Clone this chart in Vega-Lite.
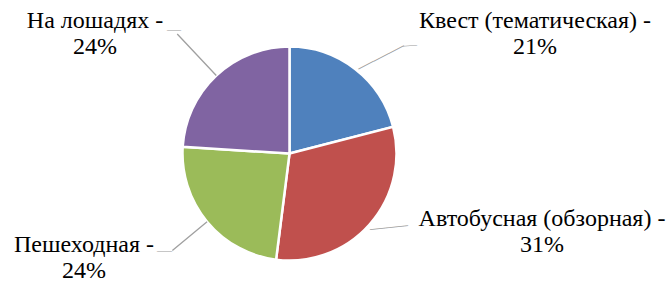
{
  "$schema": "https://vega.github.io/schema/vega-lite/v6.json",
  "autosize": "none",
  "width": 579,
  "height": 257,
  "padding": {"left": 0, "right": 90, "top": 25, "bottom": 0},
  "background": "white",
  "config": {"view": {"stroke": null}},
  "data": {
    "values": [
      {"i": 1, "name": "Квест (тематическая)", "value": 21, "line1": "Квест (тематическая) -", "line2": "21%"},
      {"i": 2, "name": "Автобусная (обзорная)", "value": 31, "line1": "Автобусная (обзорная) -", "line2": "31%"},
      {"i": 3, "name": "Пешеходная", "value": 24, "line1": "Пешеходная -", "line2": "24%"},
      {"i": 4, "name": "На лошадях", "value": 24, "line1": "На лошадях -", "line2": "24%"}
    ]
  },
  "layer": [
    {
      "transform": [{"filter": "datum.i == 1"}],
      "mark": {"type": "text", "font": "Liberation Serif", "fontSize": 24, "align": "center", "baseline": "alphabetic", "dx": 245.5, "dy": -125.2},
      "encoding": {"text": {"field": "line1", "type": "nominal"}}
    },
    {
      "transform": [{"filter": "datum.i == 1"}],
      "mark": {"type": "text", "font": "Liberation Serif", "fontSize": 24, "align": "center", "baseline": "alphabetic", "dx": 245.5, "dy": -99.2},
      "encoding": {"text": {"field": "line2", "type": "nominal"}}
    },
    {
      "transform": [{"filter": "datum.i == 2"}],
      "mark": {"type": "text", "font": "Liberation Serif", "fontSize": 24, "align": "center", "baseline": "alphabetic", "dx": 252.5, "dy": 72.5},
      "encoding": {"text": {"field": "line1", "type": "nominal"}}
    },
    {
      "transform": [{"filter": "datum.i == 2"}],
      "mark": {"type": "text", "font": "Liberation Serif", "fontSize": 24, "align": "center", "baseline": "alphabetic", "dx": 252.5, "dy": 98.5},
      "encoding": {"text": {"field": "line2", "type": "nominal"}}
    },
    {
      "transform": [{"filter": "datum.i == 3"}],
      "mark": {"type": "text", "font": "Liberation Serif", "fontSize": 24, "align": "center", "baseline": "alphabetic", "dx": -205.5, "dy": 98.2},
      "encoding": {"text": {"field": "line1", "type": "nominal"}}
    },
    {
      "transform": [{"filter": "datum.i == 3"}],
      "mark": {"type": "text", "font": "Liberation Serif", "fontSize": 24, "align": "center", "baseline": "alphabetic", "dx": -205.5, "dy": 124.2},
      "encoding": {"text": {"field": "line2", "type": "nominal"}}
    },
    {
      "transform": [{"filter": "datum.i == 4"}],
      "mark": {"type": "text", "font": "Liberation Serif", "fontSize": 24, "align": "center", "baseline": "alphabetic", "dx": -194.5, "dy": -125.8},
      "encoding": {"text": {"field": "line1", "type": "nominal"}}
    },
    {
      "transform": [{"filter": "datum.i == 4"}],
      "mark": {"type": "text", "font": "Liberation Serif", "fontSize": 24, "align": "center", "baseline": "alphabetic", "dx": -194.5, "dy": -99.8},
      "encoding": {"text": {"field": "line2", "type": "nominal"}}
    },
    {
      "mark": {"type": "arc", "outerRadius": 107, "stroke": "white", "strokeWidth": 2.5},
      "encoding": {
        "theta": {"field": "value", "type": "quantitative", "stack": true},
        "order": {"field": "i", "type": "quantitative"},
        "color": {
          "field": "name", "type": "nominal", "legend": null,
          "scale": {
            "domain": ["Квест (тематическая)", "Автобусная (обзорная)", "Пешеходная", "На лошадях"],
            "range": ["#4F81BD", "#C0504D", "#9BBB59", "#8064A2"]
          }
        }
      }
    },
    {
      "mark": {"type": "arc", "innerRadius": 107, "outerRadius": 152, "padAngle": 3, "fillOpacity": 0, "fill": "white", "stroke": "#A0A0A0", "strokeWidth": 1.3},
      "encoding": {
        "theta": {"field": "value", "type": "quantitative", "stack": true},
        "order": {"field": "i", "type": "quantitative"},
        "strokeOpacity": {"condition": {"test": "datum.i == 3", "value": 1}, "value": 0}
      }
    },
    {
      "mark": {"type": "arc", "innerRadius": 107, "outerRadius": 164, "padAngle": 3, "fillOpacity": 0, "fill": "white", "stroke": "#A0A0A0", "strokeWidth": 1.3},
      "encoding": {
        "theta": {"field": "value", "type": "quantitative", "stack": true},
        "order": {"field": "i", "type": "quantitative"},
        "strokeOpacity": {"condition": {"test": "datum.i == 4", "value": 1}, "value": 0}
      }
    },
    {
      "transform": [{"filter": "datum.i == 1"}],
      "mark": {"type": "text", "text": "———", "font": "Liberation Serif", "fontSize": 17, "align": "left", "baseline": "middle", "angle": 333, "dx": 99.85, "dy": -45.08, "color": "#A0A0A0"}
    },
    {
      "transform": [{"filter": "datum.i == 1"}],
      "mark": {"type": "text", "text": "—", "font": "Liberation Serif", "fontSize": 14, "align": "left", "baseline": "middle", "angle": 356, "dx": 120.77, "dy": -99.82, "color": "#A0A0A0"}
    },
    {
      "transform": [{"filter": "datum.i == 2"}],
      "mark": {"type": "text", "text": "——", "font": "Liberation Serif", "fontSize": 19, "align": "left", "baseline": "middle", "angle": 354, "dx": 72.27, "dy": 82.5, "color": "#A0A0A0"}
    },
    {
      "transform": [{"filter": "datum.i == 3"}],
      "mark": {"type": "text", "text": "—", "font": "Liberation Serif", "fontSize": 15, "align": "left", "baseline": "middle", "dx": -132.5, "dy": 96.5, "color": "#A0A0A0"}
    },
    {
      "transform": [{"filter": "datum.i == 4"}],
      "mark": {"type": "text", "text": "—", "font": "Liberation Serif", "fontSize": 14, "align": "left", "baseline": "middle", "dx": -122.5, "dy": -123.5, "color": "#A0A0A0"}
    }
  ]
}
